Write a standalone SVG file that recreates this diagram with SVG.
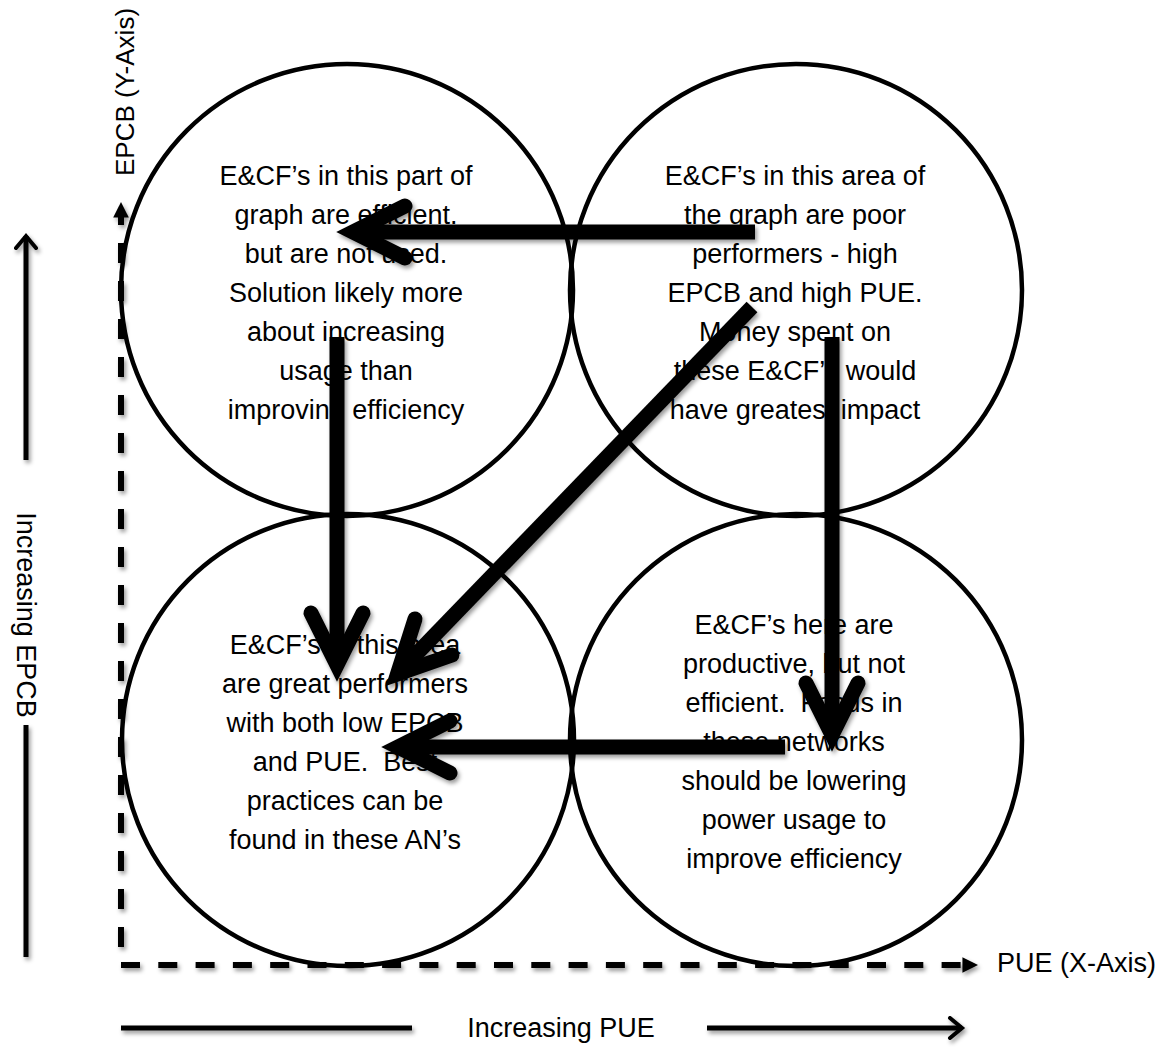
<svg xmlns="http://www.w3.org/2000/svg" width="1164" height="1047" viewBox="0 0 1164 1047">
<defs>
<filter id="sh" x="-20%" y="-20%" width="140%" height="140%">
<feDropShadow dx="2" dy="3" stdDeviation="2" flood-color="#000" flood-opacity="0.4"/>
</filter>
<marker id="tri" viewBox="0 0 10 10" refX="1" refY="5" markerWidth="2.6" markerHeight="2.8" orient="auto" markerUnits="strokeWidth">
<path d="M0,0 L10,5 L0,10 Z" fill="#000"/>
</marker>
<marker id="open" viewBox="0 0 24 24" refX="20" refY="12" markerWidth="24" markerHeight="24" orient="auto" markerUnits="userSpaceOnUse">
<path d="M8,2 L20,12 L8,22" fill="none" stroke="#000" stroke-width="4" stroke-linecap="round" stroke-linejoin="miter"/>
</marker>
</defs>
<style>
.c{fill:none;stroke:#000;stroke-width:4.5}
.t{font-family:"Liberation Sans",Arial,sans-serif;font-size:27px;fill:#000;text-anchor:middle;white-space:pre}
.s{font-size:26px}
.shaft{fill:none;stroke:#000;stroke-width:15;stroke-linecap:butt}
.head{fill:none;stroke:#000;stroke-width:15;stroke-linecap:round;stroke-linejoin:miter;stroke-miterlimit:6}
.dash{fill:none;stroke:#000;stroke-width:6}
.ax{fill:none;stroke:#000;stroke-width:5}
</style>
<rect width="1164" height="1047" fill="#fff"/>

<g id="axes" filter="url(#sh)">
<path class="dash" d="M121,947 V216" stroke-dasharray="20 18" marker-end="url(#tri)"/>
<path class="dash" d="M121,965 H964" stroke-dasharray="19 18.3" marker-end="url(#tri)"/>
<path class="ax" d="M26,460 V236" marker-end="url(#open)"/>
<path class="ax" d="M26,725 V957"/>
<path class="ax" d="M121,1028 H412"/>
<path class="ax" d="M707,1028 H962" marker-end="url(#open)"/>
</g>

<g id="axis-labels">
<text class="t s" transform="translate(134,92) rotate(-90)">EPCB (Y-Axis)</text>
<text class="t" transform="translate(17,615) rotate(90)">Increasing EPCB</text>
<text class="t" x="561" y="1037">Increasing PUE</text>
<text class="t" x="997" y="972" style="text-anchor:start">PUE (X-Axis)</text>
</g>

<g id="node-top-left">
<circle class="c" cx="347" cy="290" r="226"/>
<text class="t" x="346" y="185">E&amp;CF’s in this part of</text>
<text class="t" x="346" y="224">graph are efficient.</text>
<text class="t" x="346" y="263">but are not used.</text>
<text class="t" x="346" y="302">Solution likely more</text>
<text class="t" x="346" y="341">about increasing</text>
<text class="t" x="346" y="380">usage than</text>
<text class="t" x="346" y="419">improving efficiency</text>
</g>

<g id="node-top-right">
<circle class="c" cx="796" cy="290" r="226"/>
<text class="t" x="795" y="185">E&amp;CF’s in this area of</text>
<text class="t" x="795" y="224">the graph are poor</text>
<text class="t" x="795" y="263">performers - high</text>
<text class="t" x="795" y="302">EPCB and high PUE.</text>
<text class="t" x="795" y="341">Money spent on</text>
<text class="t" x="795" y="380">these E&amp;CF’s would</text>
<text class="t" x="795" y="419">have greatest impact</text>
</g>

<g id="node-bottom-left">
<circle class="c" cx="348" cy="740" r="226"/>
<text class="t" x="345" y="654">E&amp;CF’s in this area</text>
<text class="t" x="345" y="693">are great performers</text>
<text class="t" x="345" y="732">with both low EPCB</text>
<text class="t" x="345" y="771" xml:space="preserve">and PUE.  Best</text>
<text class="t" x="345" y="810">practices can be</text>
<text class="t" x="345" y="849">found in these AN’s</text>
</g>

<g id="node-bottom-right">
<circle class="c" cx="796" cy="740" r="226"/>
<text class="t" x="794" y="634">E&amp;CF’s here are</text>
<text class="t" x="794" y="673">productive, but not</text>
<text class="t" x="794" y="712" xml:space="preserve">efficient.  Focus in</text>
<text class="t" x="794" y="751">these networks</text>
<text class="t" x="794" y="790">should be lowering</text>
<text class="t" x="794" y="829">power usage to</text>
<text class="t" x="794" y="868">improve efficiency</text>
</g>

<g id="connectors" filter="url(#sh)">
<g id="arrow-tr-tl">
<path class="shaft" d="M755,232 H356"/>
<path class="head" d="M405,206 L353,232 L405,258"/>
</g>
<g id="arrow-tl-bl">
<path class="shaft" d="M337,337 V662"/>
<path class="head" d="M311,613 L337,665 L363,613"/>
</g>
<g id="arrow-tr-bl">
<path class="shaft" d="M752,307 L399,672"/>
<path class="head" d="M415,619 L397.5,674 L452,655"/>
</g>
<g id="arrow-tr-br">
<path class="shaft" d="M832,337 V732"/>
<path class="head" d="M806,683 L832,735 L858,683"/>
</g>
<g id="arrow-br-bl">
<path class="shaft" d="M785,747 H401"/>
<path class="head" d="M450,721 L398,747 L450,773"/>
</g>
</g>
</svg>
